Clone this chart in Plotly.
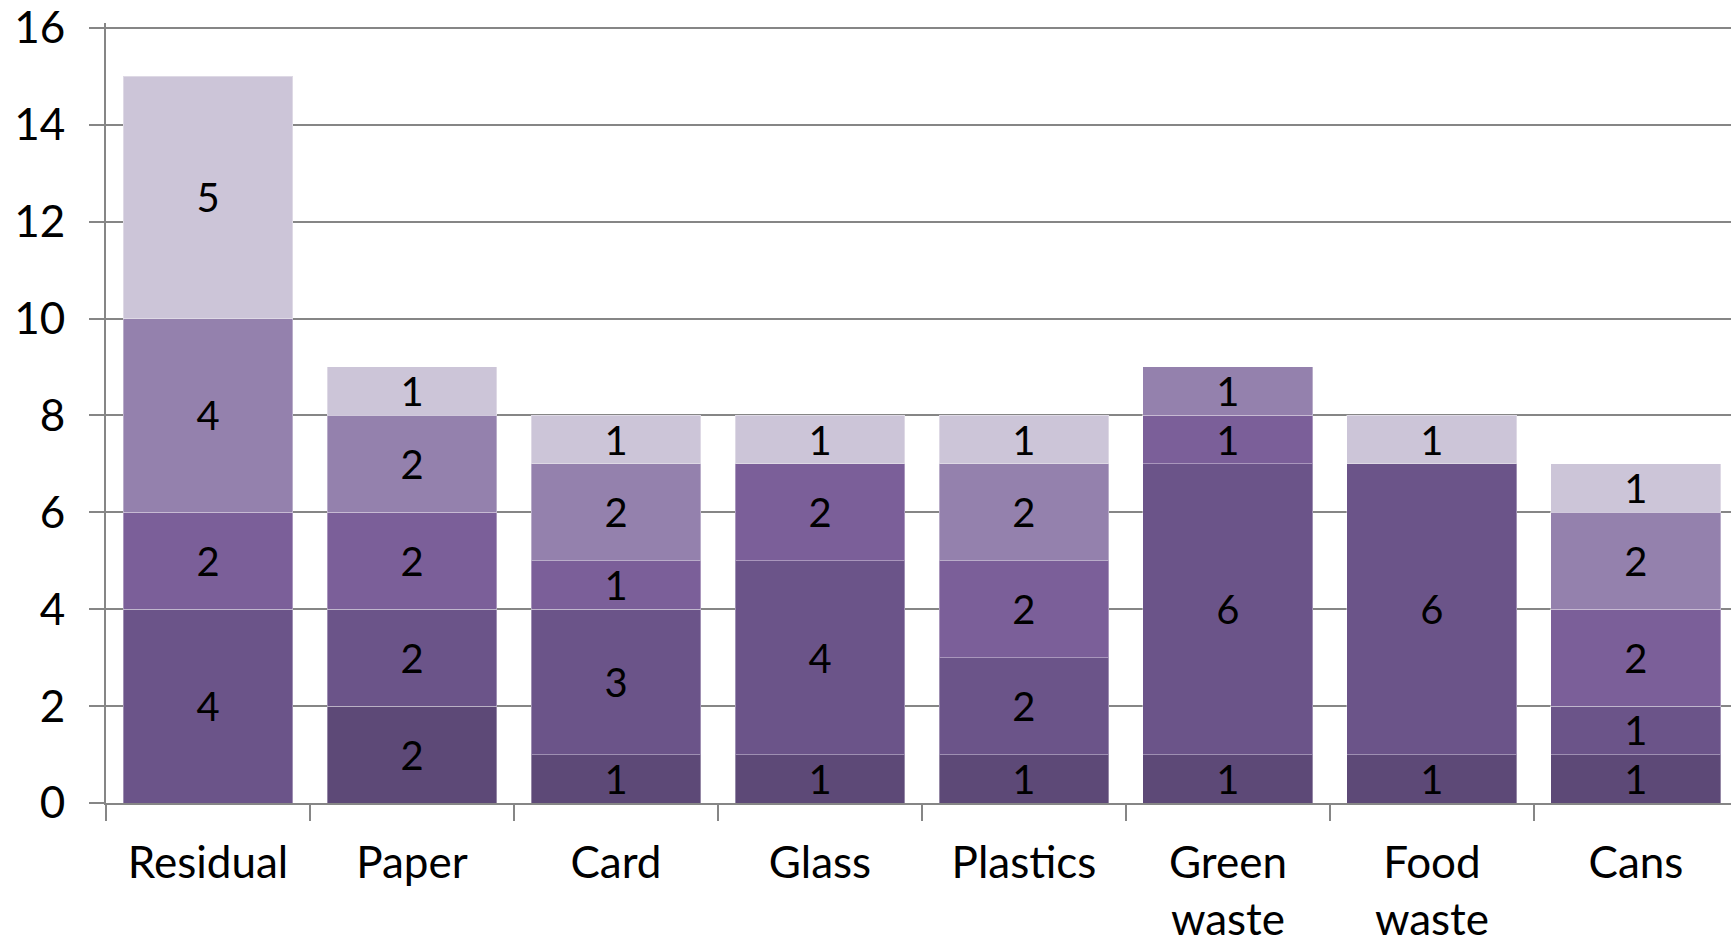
import plotly.graph_objects as go

categories = ["Residual", "Paper", "Card", "Glass", "Plastics", "Green<br>waste", "Food<br>waste", "Cans"]
series_1 = [0, 2, 1, 1, 1, 1, 1, 1]
series_2 = [4, 2, 3, 4, 2, 6, 6, 1]
series_3 = [2, 2, 1, 2, 2, 1, 0, 2]
series_4 = [4, 2, 2, 0, 2, 1, 0, 2]
series_5 = [5, 1, 1, 1, 1, 0, 1, 1]
y_ticks = [0, 2, 4, 6, 8, 10, 12, 14, 16]

all_series = [series_1, series_2, series_3, series_4, series_5]
colors = ["#5d4977", "#6b5489", "#7b5f99", "#9481ad", "#ccc5d8"]

FONT = "Lato"
fig = go.Figure()
for vals, col in zip(all_series, colors):
    fig.add_trace(go.Bar(
        x=categories, y=vals, marker=dict(color=col, line=dict(color="rgba(255,255,255,0.35)", width=1)),
        text=[str(v) if v else "" for v in vals], textposition="inside",
        insidetextanchor="middle", textangle=0,
        textfont=dict(family=FONT, size=40, color="black"),
        showlegend=False,
    ))

fig.update_layout(
    barmode="stack", bargap=0.167,
    width=1731, height=944,
    margin=dict(l=106, r=0, t=18, b=139),
    paper_bgcolor="white", plot_bgcolor="white",
    uniformtext=dict(minsize=40, mode="show"),
    font=dict(family=FONT, color="black"),
)
fig.update_xaxes(
    range=[-0.5, 7.466], tickson="boundaries", ticks="outside", ticklen=16,
    tickcolor="#868686", tickwidth=2,
    showline=True, linecolor="#868686", linewidth=2,
    tickfont=dict(family=FONT, size=44, color="black"), showgrid=False,
    ticklabelstandoff=20,
)
fig.update_yaxes(
    range=[0, 16.1], tickvals=y_ticks, ticks="outside", ticklen=15,
    tickcolor="#868686", tickwidth=2,
    showline=True, linecolor="#868686", linewidth=2,
    showgrid=True, gridcolor="#868686", gridwidth=2, zeroline=False,
    tickfont=dict(family=FONT, size=44, color="black"), ticklabelstandoff=15,
    ticklabeloverflow="allow",
)
fig.write_html(
    "out.html",
    config={"displayModeBar": False},
    post_script="document.body.style.margin='0';document.body.style.overflow='hidden';",
)
